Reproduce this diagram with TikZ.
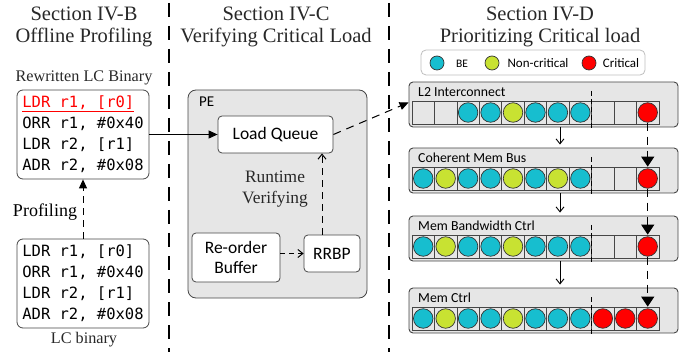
\documentclass[tikz,border=0pt]{standalone}
\usepackage{fontspec}
\setmainfont{Liberation Serif}
\setsansfont{Carlito}
\setmonofont{DejaVu Sans Mono}
\usetikzlibrary{arrows.meta}
\definecolor{becol}{RGB}{23,190,207}
\definecolor{nccol}{RGB}{200,226,50}
\definecolor{crcol}{RGB}{255,0,0}
\definecolor{boxgray}{RGB}{230,230,230}
\definecolor{edgegray}{RGB}{70,70,70}
\definecolor{txtgray}{RGB}{40,40,40}
\tikzset{
  divider/.style={line width=1.3pt, dash pattern=on 14pt off 9pt},
  title/.style={font=\fontsize{20.5}{22}\selectfont, align=center, text=txtgray},
  serifl/.style={font=\fontsize{16.2}{18}\selectfont, text=txtgray},
  codebox/.style={draw=edgegray, line width=0.8pt, rounded corners=6pt, fill=white,
    minimum width=132pt, minimum height=89pt, align=left, inner sep=0pt,
    font=\ttfamily\fontsize{15.5}{21}\selectfont},
  pebox/.style={draw=edgegray, line width=0.8pt, rounded corners=8pt, fill=boxgray},
  unit/.style={draw=edgegray, line width=0.8pt, rounded corners=4pt, fill=white,
    align=center, inner sep=0pt, font=\sffamily\fontsize{17.5}{20}\selectfont},
  stagebox/.style={draw=edgegray, line width=0.9pt, rounded corners=4pt, fill=boxgray,
    minimum width=269pt, minimum height=45pt, inner sep=0pt},
  stagelab/.style={font=\sffamily\fontsize{13.8}{15}\selectfont, inner sep=0pt},
  cell/.style={draw=edgegray, line width=0.7pt, fill=boxgray, minimum width=22.45pt,
    minimum height=23pt, inner sep=0pt},
  circ/.style={circle, draw=black!80, line width=0.7pt, minimum size=19.5pt, inner sep=0pt},
  lcirc/.style={circle, draw=black!80, line width=0.7pt, minimum size=14pt, inner sep=0pt},
  kb/.style={fill=becol}, kn/.style={fill=nccol}, kr/.style={fill=crcol},
  legtext/.style={font=\sffamily\fontsize{13}{15}\selectfont, inner sep=0pt},
  tri/.style={-{Triangle[length=9pt,width=8pt]}},
  barb/.style={-{Straight Barb[length=5pt,width=8pt]}},
  sdash/.style={dash pattern=on 7pt off 5pt},
  critline/.style={line width=1.1pt, dash pattern=on 8pt off 6pt, -{Triangle[length=10pt,width=13pt]}},
  splitline/.style={line width=1pt, dash pattern=on 5pt off 3pt},
}
\begin{document}
\begin{tikzpicture}[x=1pt,y=-1pt]
\useasboundingbox (0,0) rectangle (692,352);

% dividers
\coordinate (d1t) at (169,3); \coordinate (d1b) at (169,352);
\coordinate (d2t) at (389,3); \coordinate (d2b) at (389,352);
\draw[divider] (d1t) -- (d1b);
\draw[divider] (d2t) -- (d2b);

% titles
\node[title] (t1) at (84,27) {Section IV-B\\Offline Profiling};
\node[title] (t2) at (276,27) {Section IV-C\\Verifying Critical Load};
\node[title] (t3) at (540,27) {Section IV-D\\Prioritizing Critical load};

% left column
\node[serifl] (rwlab) at (84,78) {Rewritten LC Binary};
\node[codebox] (rw) at (83,134.5) {\textcolor{crcol}{\underline{LDR r1, [r0]}}\\ORR r1, \#0x40\\LDR r2, [r1]\\ADR r2, \#0x08};
\node[codebox] (lc) at (83,283.5) {LDR r1, [r0]\\ORR r1, \#0x40\\LDR r2, [r1]\\ADR r2, \#0x08};
\node[serifl] (lclab) at (84,340) {LC binary};
\node[font=\fontsize{18}{20}\selectfont] (prof) at (45,212) {Profiling};
\draw[line width=1pt, sdash, tri] (lc.north) -- (rw.south);

% middle column
\node[pebox, minimum width=179pt, minimum height=208pt] (pe) at (277.5,194) {};
\node[font=\sffamily\fontsize{15}{17}\selectfont, anchor=west, inner sep=0pt] (pelab) at (199,102) {PE};
\node[unit, minimum width=115pt, minimum height=37pt] (lq) at (275.5,134.5) {Load Queue};
\node[font=\fontsize{17.4}{21}\selectfont, align=center, text=txtgray] (rv) at (275,189) {Runtime\\Verifying};
\node[unit, minimum width=88pt, minimum height=49pt] (rob) at (236,257.5) {Re-order\\Buffer};
\node[unit, minimum width=56pt, minimum height=37pt] (rrbp) at (332,253.5) {RRBP};
\draw[line width=1pt, dash pattern=on 5pt off 4pt, barb] (rob.east |- rrbp.west) -- (rrbp.west);
\draw[line width=1pt, sdash, barb] ([xshift=-10pt]rrbp.north) -- ([xshift=-10pt]rrbp.north |- lq.south);
\draw[line width=1pt, tri] (rw.east |- lq.west) -- (lq.west);

% right column: legend
\node[draw=black!25, line width=0.8pt, rounded corners=5pt, fill=white, minimum width=224pt, minimum height=25pt] (leg) at (533,62.5) {};
\node[lcirc, kb] (lgb) at (437,63) {};
\node[legtext, font=\sffamily\fontsize{11.5}{13}\selectfont] (lgbt) at (462,63.5) {BE};
\node[lcirc, kn] (lgn) at (492,63) {};
\node[legtext] (lgnt) at (538,63) {Non-critical};
\node[lcirc, kr] (lgr) at (589,63) {};
\node[legtext] (lgrt) at (621,63.5) {Critical};

% stages
\foreach \i/\yt/\lab in {1/82/L2 Interconnect, 2/148/Coherent Mem Bus, 3/216/Mem Bandwidth Ctrl, 4/288/Mem Ctrl} {
  \node[stagebox] (st\i) at (543.5,\yt+22.5) {};
  \node[stagelab, anchor=west] (sl\i) at (418,\yt+10) {\lab};
  \foreach \j in {1,...,11} {
    \node[cell] (s\i-\j) at ({412+(\j-0.5)*22.45},\yt+30.5) {};
  }
  \coordinate (sp\i t) at (591.6,\yt+9);
  \coordinate (sp\i b) at (591.6,\yt+48);
  \draw[splitline] (sp\i t) -- (sp\i b);
}
\foreach \j/\t in {1/e,2/e,3/b,4/b,5/n,6/b,7/b,8/b,9/e,10/e,11/r} {
  \if\t e\else \node[circ, k\t] (k1-\j) at (s1-\j) {}; \fi
}
\foreach \j/\t in {1/b,2/n,3/b,4/b,5/n,6/b,7/n,8/b,9/e,10/e,11/r} {
  \if\t e\else \node[circ, k\t] (k2-\j) at (s2-\j) {}; \fi
}
\foreach \j/\t in {1/b,2/n,3/b,4/b,5/n,6/b,7/b,8/b,9/e,10/e,11/r} {
  \if\t e\else \node[circ, k\t] (k3-\j) at (s3-\j) {}; \fi
}
\foreach \j/\t in {1/b,2/n,3/b,4/b,5/n,6/b,7/b,8/b,9/r,10/r,11/r} {
  \if\t e\else \node[circ, k\t] (k4-\j) at (s4-\j) {}; \fi
}

% flow between stages
\draw[line width=0.9pt, barb] (st1.south -| 560,0) -- ([yshift=3pt]st2.north -| 560,0);
\draw[line width=0.9pt, barb] (st2.south -| 560,0) -- ([yshift=3pt]st3.north -| 560,0);
\draw[line width=0.9pt, barb] (st3.south -| 560,0) -- ([yshift=3pt]st4.north -| 560,0);

% critical path
\draw[critline] (k1-11.south) -- (s2-11.north);
\draw[critline] (k2-11.south) -- (s3-11.north);
\draw[critline] (k3-11.south) -- (s4-11.north);

% load queue to L2
\draw[line width=1pt, dash pattern=on 8pt off 6pt, tri] (lq.east) -- ([yshift=2pt]st1.west);
\end{tikzpicture}
\end{document}
